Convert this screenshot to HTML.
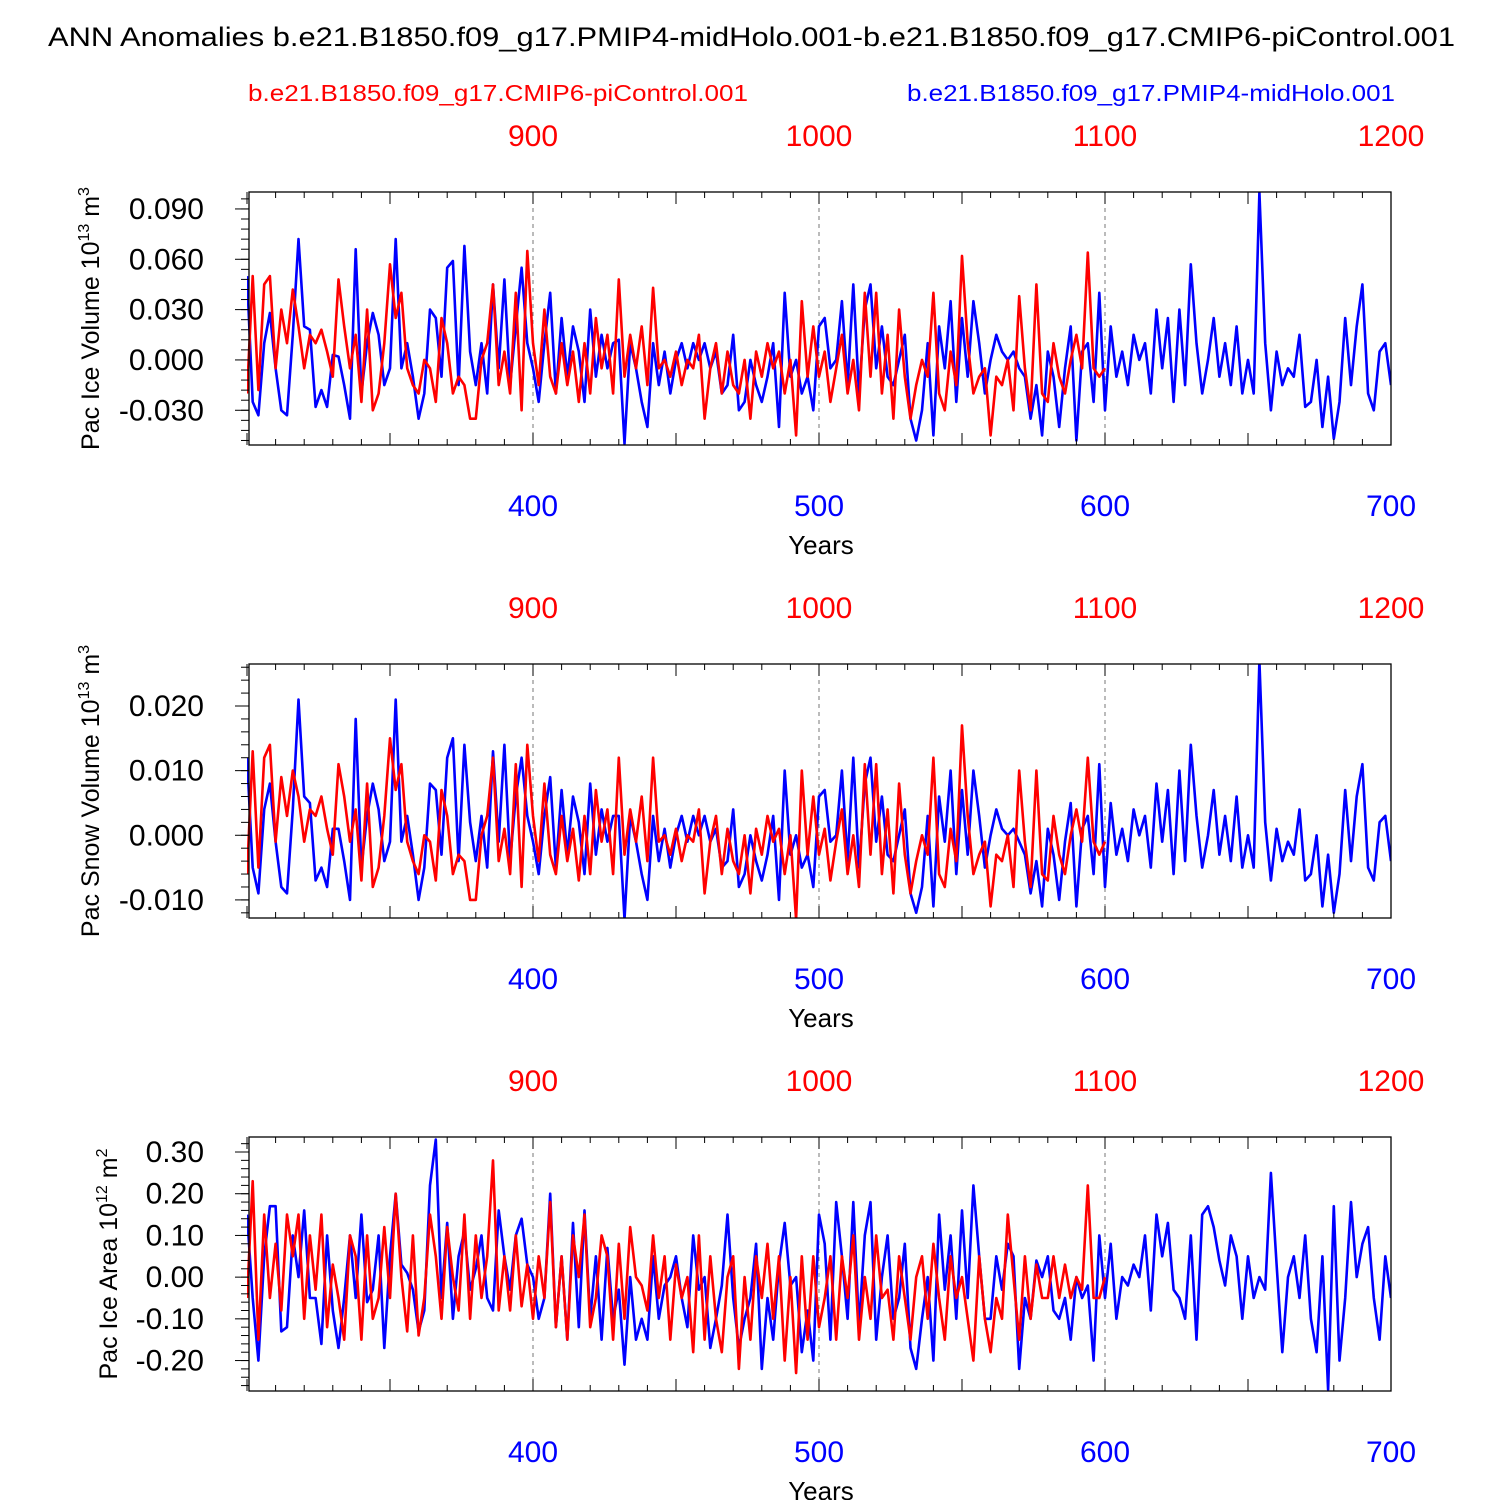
<!DOCTYPE html>
<html><head><meta charset="utf-8"><style>
body{margin:0;background:#fff}
svg{display:block;font-family:"Liberation Sans",Arial,sans-serif}
</style></head><body>
<svg id="chart" width="1500" height="1500" viewBox="0 0 1500 1500" xmlns="http://www.w3.org/2000/svg">
<rect width="1500" height="1500" fill="#fff"/>
<text x="48" y="46" font-size="27" textLength="1407" lengthAdjust="spacingAndGlyphs">ANN Anomalies b.e21.B1850.f09_g17.PMIP4-midHolo.001-b.e21.B1850.f09_g17.CMIP6-piControl.001</text>
<text x="248" y="101" font-size="23" fill="#f00" textLength="500" lengthAdjust="spacingAndGlyphs">b.e21.B1850.f09_g17.CMIP6-piControl.001</text>
<text x="907" y="101" font-size="23" fill="#00f" textLength="488" lengthAdjust="spacingAndGlyphs">b.e21.B1850.f09_g17.PMIP4-midHolo.001</text>
<g id="panels"></g>
</svg>
<script>
// Blue series: years 300..700 step 2; Red series: years 800..1100 step 2
const blueYears = {start:300, step:2};
const redYears = {start:800, step:2};
const blueTickLabels = [400,500,600,700];
const redTickLabels = [900,1000,1100,1200];

// Panel 1: Pac ice volume (units of 0.001 x 1e13 m3)
const iceVolBlue = [50,-25,-33,10,28,-5,-30,-33,15,72,
20,18,-28,-18,-28,3,2,-15,-35,66,
-20,10,28,15,-15,-5,72,-5,10,-10,
-35,-20,30,25,-10,55,59,-15,68,5,
-15,10,-20,45,-5,48,-15,20,55,10,
-5,-25,10,40,-20,25,-10,20,5,-25,
30,-10,15,-5,10,12,-50,10,-5,-25,
-40,10,-15,5,-20,0,10,-5,10,0,
10,-5,5,-20,-15,15,-30,-25,0,-15,
-25,-10,10,-40,40,-10,0,-20,-10,-30,
20,25,-5,0,35,-15,45,-20,30,45,
-5,20,-10,-15,0,15,-35,-48,-30,10,
-45,20,-5,35,-25,25,-10,35,10,-20,
0,15,5,0,5,-5,-10,-35,-15,-45,
5,-10,-40,-5,20,-48,5,10,-25,40,
-30,20,-10,5,-15,15,0,10,-20,30,
-5,25,-25,30,-15,57,10,-20,0,25,
-10,10,-15,20,-20,0,-20,100,10,-30,
5,-15,-5,-10,15,-28,-25,0,-40,-10,
-47,-25,25,-15,20,45,-20,-30,5,10,
-15];
const iceVolRed = [-20,50,-18,45,50,-5,30,10,42,20,
-5,15,10,18,5,-10,48,20,-5,15,
-25,30,-30,-20,10,57,25,40,-5,-15,
-20,0,-5,-25,25,10,-20,-10,-15,-35,
-35,0,10,45,-15,5,-20,40,-30,65,
10,-15,30,-10,-20,10,-15,5,-25,10,
-20,25,-5,15,-20,48,-10,15,-5,20,
-15,43,-5,0,-10,5,-15,0,-5,15,
-35,-5,10,-20,5,-15,-20,0,-35,5,
-10,10,-5,5,-20,0,-45,35,-10,20,
-10,5,-25,-5,15,-20,0,-30,40,-10,
40,-20,15,-35,30,-10,-35,-15,0,-10,
40,-20,-30,5,-15,62,10,-20,-10,-5,
-45,-10,-15,0,-30,38,-5,-30,45,-20,
-25,10,-10,-20,0,15,-5,64,-5,-10,
-5];

// Panel 2: Pac snow volume (units of 0.001 x 1e13 m3)
const snowVolBlue = [12,-5,-9,4,8,-1,-8,-9,4,21,
6,5,-7,-5,-8,1,1,-4,-10,18,
-5,3,8,4,-4,-1,21,-1,3,-3,
-10,-5,8,7,-3,12,15,-4,14,2,
-4,3,-5,13,-1,14,-4,6,12,3,
-1,-6,3,9,-5,7,-3,6,2,-6,
8,-3,4,-1,3,3,-13,3,-1,-6,
-10,3,-4,1,-5,0,3,-1,3,0,
3,-1,1,-5,-4,4,-8,-6,0,-4,
-7,-3,3,-10,10,-3,0,-5,-3,-8,
6,7,-1,0,10,-4,12,-5,8,12,
-1,6,-3,-4,0,4,-9,-12,-8,3,
-11,6,-1,10,-6,7,-3,10,3,-5,
0,4,1,0,1,-1,-3,-9,-4,-11,
1,-3,-10,-1,5,-11,1,3,-6,11,
-8,5,-3,1,-4,4,0,3,-5,8,
-1,7,-6,10,-4,14,3,-5,0,7,
-3,3,-4,6,-5,0,-5,27,2,-7,
1,-4,-1,-3,4,-7,-6,0,-11,-3,
-12,-6,7,-4,6,11,-5,-7,2,3,
-4];
const snowVolRed = [-6,13,-5,12,14,-1,9,3,10,6,
-1,4,3,6,1,-3,11,6,-1,4,
-7,8,-8,-5,3,15,7,11,-1,-4,
-6,0,-1,-7,7,3,-6,-3,-4,-10,
-10,0,3,12,-4,1,-6,11,-8,14,
3,-4,8,-3,-6,3,-4,1,-7,3,
-6,7,-1,4,-6,12,-3,4,-1,6,
-4,12,-1,0,-3,1,-4,0,-1,4,
-9,-1,3,-6,1,-4,-6,0,-9,1,
-3,3,-1,1,-6,0,-13,10,-3,6,
-3,1,-7,-1,4,-6,0,-8,11,-3,
11,-6,4,-9,8,-3,-9,-4,0,-3,
12,-6,-8,1,-4,17,3,-6,-3,-1,
-11,-3,-4,0,-8,10,-1,-8,10,-6,
-7,3,-3,-6,0,4,-1,12,-1,-3,
-1];

// Panel 3: Pac ice area (units of 0.01 x 1e12 m2)
const iceAreaBlue = [15,-5,-20,5,17,17,-13,-12,10,0,
16,-5,-5,-16,10,-8,-17,-5,10,-5,
15,-6,-3,10,-17,5,20,3,1,-3,
-13,-8,22,33,-5,13,-10,5,11,-3,
2,10,-5,-8,16,5,-3,10,14,3,
0,-10,-5,20,-12,5,-15,13,-12,16,
-10,5,-15,7,-10,-3,-21,0,-15,-10,
-15,5,-10,-2,0,5,-5,-12,10,-3,
0,-17,-10,-2,15,-5,-17,-10,-5,8,
-22,-5,-15,3,13,-2,0,-18,-8,-20,
15,8,-15,18,5,-10,18,-12,10,18,
-15,0,10,-10,-5,8,-17,-22,-10,0,
-20,15,-3,10,-10,16,-5,22,5,-10,
-10,5,-3,8,5,-22,-5,-10,4,0,
5,-8,-10,-5,-15,0,-5,-2,-20,10,
-5,8,-10,0,-2,3,0,10,-8,15,
5,13,-3,-5,-10,10,-15,15,17,12,
4,-2,10,5,-10,5,-5,0,-3,25,
3,-18,0,5,-5,10,-10,-18,5,-27,
17,-20,-5,18,0,8,12,-5,-15,5,
-5];
const iceAreaRed = [-5,23,-15,15,-5,8,-8,15,5,15,
-10,10,-3,15,-12,3,-5,-15,10,5,
-15,10,-10,-5,12,-5,20,0,-13,10,
-14,-5,15,5,-10,12,0,-8,15,-10,
10,-5,5,28,-8,5,-8,10,-7,3,
-10,5,-5,18,-12,5,-15,10,0,15,
-12,-5,10,5,-15,8,-10,12,0,-2,
-8,10,-5,5,-15,3,-5,0,-18,10,
-15,5,-10,-18,0,5,-22,0,-15,5,
-5,8,-10,5,-20,0,-23,5,-15,5,
-12,-5,5,-15,5,-5,10,-15,0,-10,
10,-5,-3,-15,5,-5,-15,0,5,-10,
8,-5,-15,5,-5,0,-10,-20,5,-10,
-18,-5,-10,15,0,-15,5,-10,3,-5,
-5,5,-5,3,-5,0,-3,22,-5,-5,
0];

const NS='http://www.w3.org/2000/svg';
const X0=247, X1=1391;
function xBlue(yr){return X0+(yr-300)/400*(X1-X0);}
function xRed(yr){return X0+(yr-800)/400*(X1-X0);}

function mk(tag,attrs,parent){const e=document.createElementNS(NS,tag);for(const k in attrs)e.setAttribute(k,attrs[k]);parent.appendChild(e);return e;}

const panels=[
 {top:192,bot:445,ymin:-0.0507,ymax:0.1001,scale:0.001,ticks:[-0.03,0,0.03,0.06,0.09],fmt:3,minor:0.006,blue:iceVolBlue,red:iceVolRed,name:'ice-volume',labelPre:'Pac Ice Volume 10',sup:'13',unit:' m',usup:'3'},
 {top:664,bot:918,ymin:-0.0128,ymax:0.0265,scale:0.001,ticks:[-0.01,0,0.01,0.02],fmt:3,minor:0.002,blue:snowVolBlue,red:snowVolRed,name:'snow-volume',labelPre:'Pac Snow Volume 10',sup:'13',unit:' m',usup:'3'},
 {top:1137,bot:1391,ymin:-0.273,ymax:0.336,scale:0.01,ticks:[-0.2,-0.1,0,0.1,0.2,0.3],fmt:2,minor:0.02,blue:iceAreaBlue,red:iceAreaRed,name:'ice-area',labelPre:'Pac Ice Area 10',sup:'12',unit:' m',usup:'2'}
];
const root=document.getElementById('panels');
panels.forEach((p,pi)=>{
 const g=mk('g',{},root);
 
 
 const yS=v=>p.bot-(v-p.ymin)/(p.ymax-p.ymin)*(p.bot-p.top);
 [400,500,600].forEach(yr=>{
  const l=mk('line',{x1:xBlue(yr),x2:xBlue(yr),y1:p.top,y2:p.bot,stroke:'#777','stroke-width':1,'stroke-dasharray':'4,4'},g);
  
  
 });
 const clip=mk('clipPath',{id:'clip'+pi},g);
 mk('rect',{x:X0,y:p.top,width:X1-X0,height:p.bot-p.top},clip);
 const sg=mk('g',{'clip-path':'url(#clip'+pi+')'},g);
 const dl=(arr,xf,start,col,nm)=>{
  const pts=arr.map((v,i)=>xf(start+2*i).toFixed(1)+','+yS(v*p.scale).toFixed(1)).join(' ');
  const pl=mk('polyline',{points:pts,fill:'none',stroke:col,'stroke-width':2.6,'stroke-linejoin':'round'},sg);
  
  
 };
 dl(p.blue,xBlue,blueYears.start,'#00f',p.name+'-blue-line');
 dl(p.red,xRed,redYears.start,'#f00',p.name+'-red-line');
 const fr=mk('rect',{x:X0+2,y:p.top,width:X1-X0-2,height:p.bot-p.top,fill:'none',stroke:'#000','stroke-width':1.3},g);
 
 
 for(let yr=300;yr<=700;yr+=10){
  const x=xBlue(yr);const len=(yr%50===0)?12:6;
  mk('line',{x1:x,x2:x,y1:p.bot,y2:p.bot-len,stroke:'#000','stroke-width':1},g);
  mk('line',{x1:x,x2:x,y1:p.top,y2:p.top+len,stroke:'#000','stroke-width':1},g);
 }
 blueTickLabels.forEach(v=>{
  const t=mk('text',{x:xBlue(v),y:p.bot+71,'font-size':30,fill:'#00f','text-anchor':'middle'},g);
  t.textContent=v;
  
  
 });
 redTickLabels.forEach(v=>{
  const t=mk('text',{x:xRed(v),y:p.top-46,'font-size':30,fill:'#f00','text-anchor':'middle'},g);
  t.textContent=v;
  
  
 });
 const yr=mk('text',{x:821,y:p.bot+109,'font-size':26,'text-anchor':'middle'},g);
 yr.textContent='Years';
 
 
 for(let v=Math.ceil(p.ymin/p.minor-1e-6)*p.minor;v<=p.ymax+1e-9;v+=p.minor){
  const y=yS(v);mk('line',{x1:X0+2,x2:X0-6,y1:y,y2:y,stroke:'#000','stroke-width':1},g);
 }
 p.ticks.forEach(v=>{
  const y=yS(v);mk('line',{x1:X0+2,x2:X0-12,y1:y,y2:y,stroke:'#000','stroke-width':1},g);
  const t=mk('text',{x:204,y:y+10,'font-size':30,'text-anchor':'end'},g);
  t.textContent=v.toFixed(p.fmt);
  
  
 });
 const cy=(p.top+p.bot)/2, tx=pi===2?117:99;
 const yt=mk('text',{x:tx,y:cy,'font-size':25,'text-anchor':'middle',transform:'rotate(-90 '+tx+' '+cy+')'},g);
 yt.innerHTML=p.labelPre+'<tspan font-size="16" dy="-10">'+p.sup+'</tspan><tspan dy="10">'+p.unit+'</tspan><tspan font-size="16" dy="-10">'+p.usup+'</tspan>';
 
 
});
</script>
</body></html>
